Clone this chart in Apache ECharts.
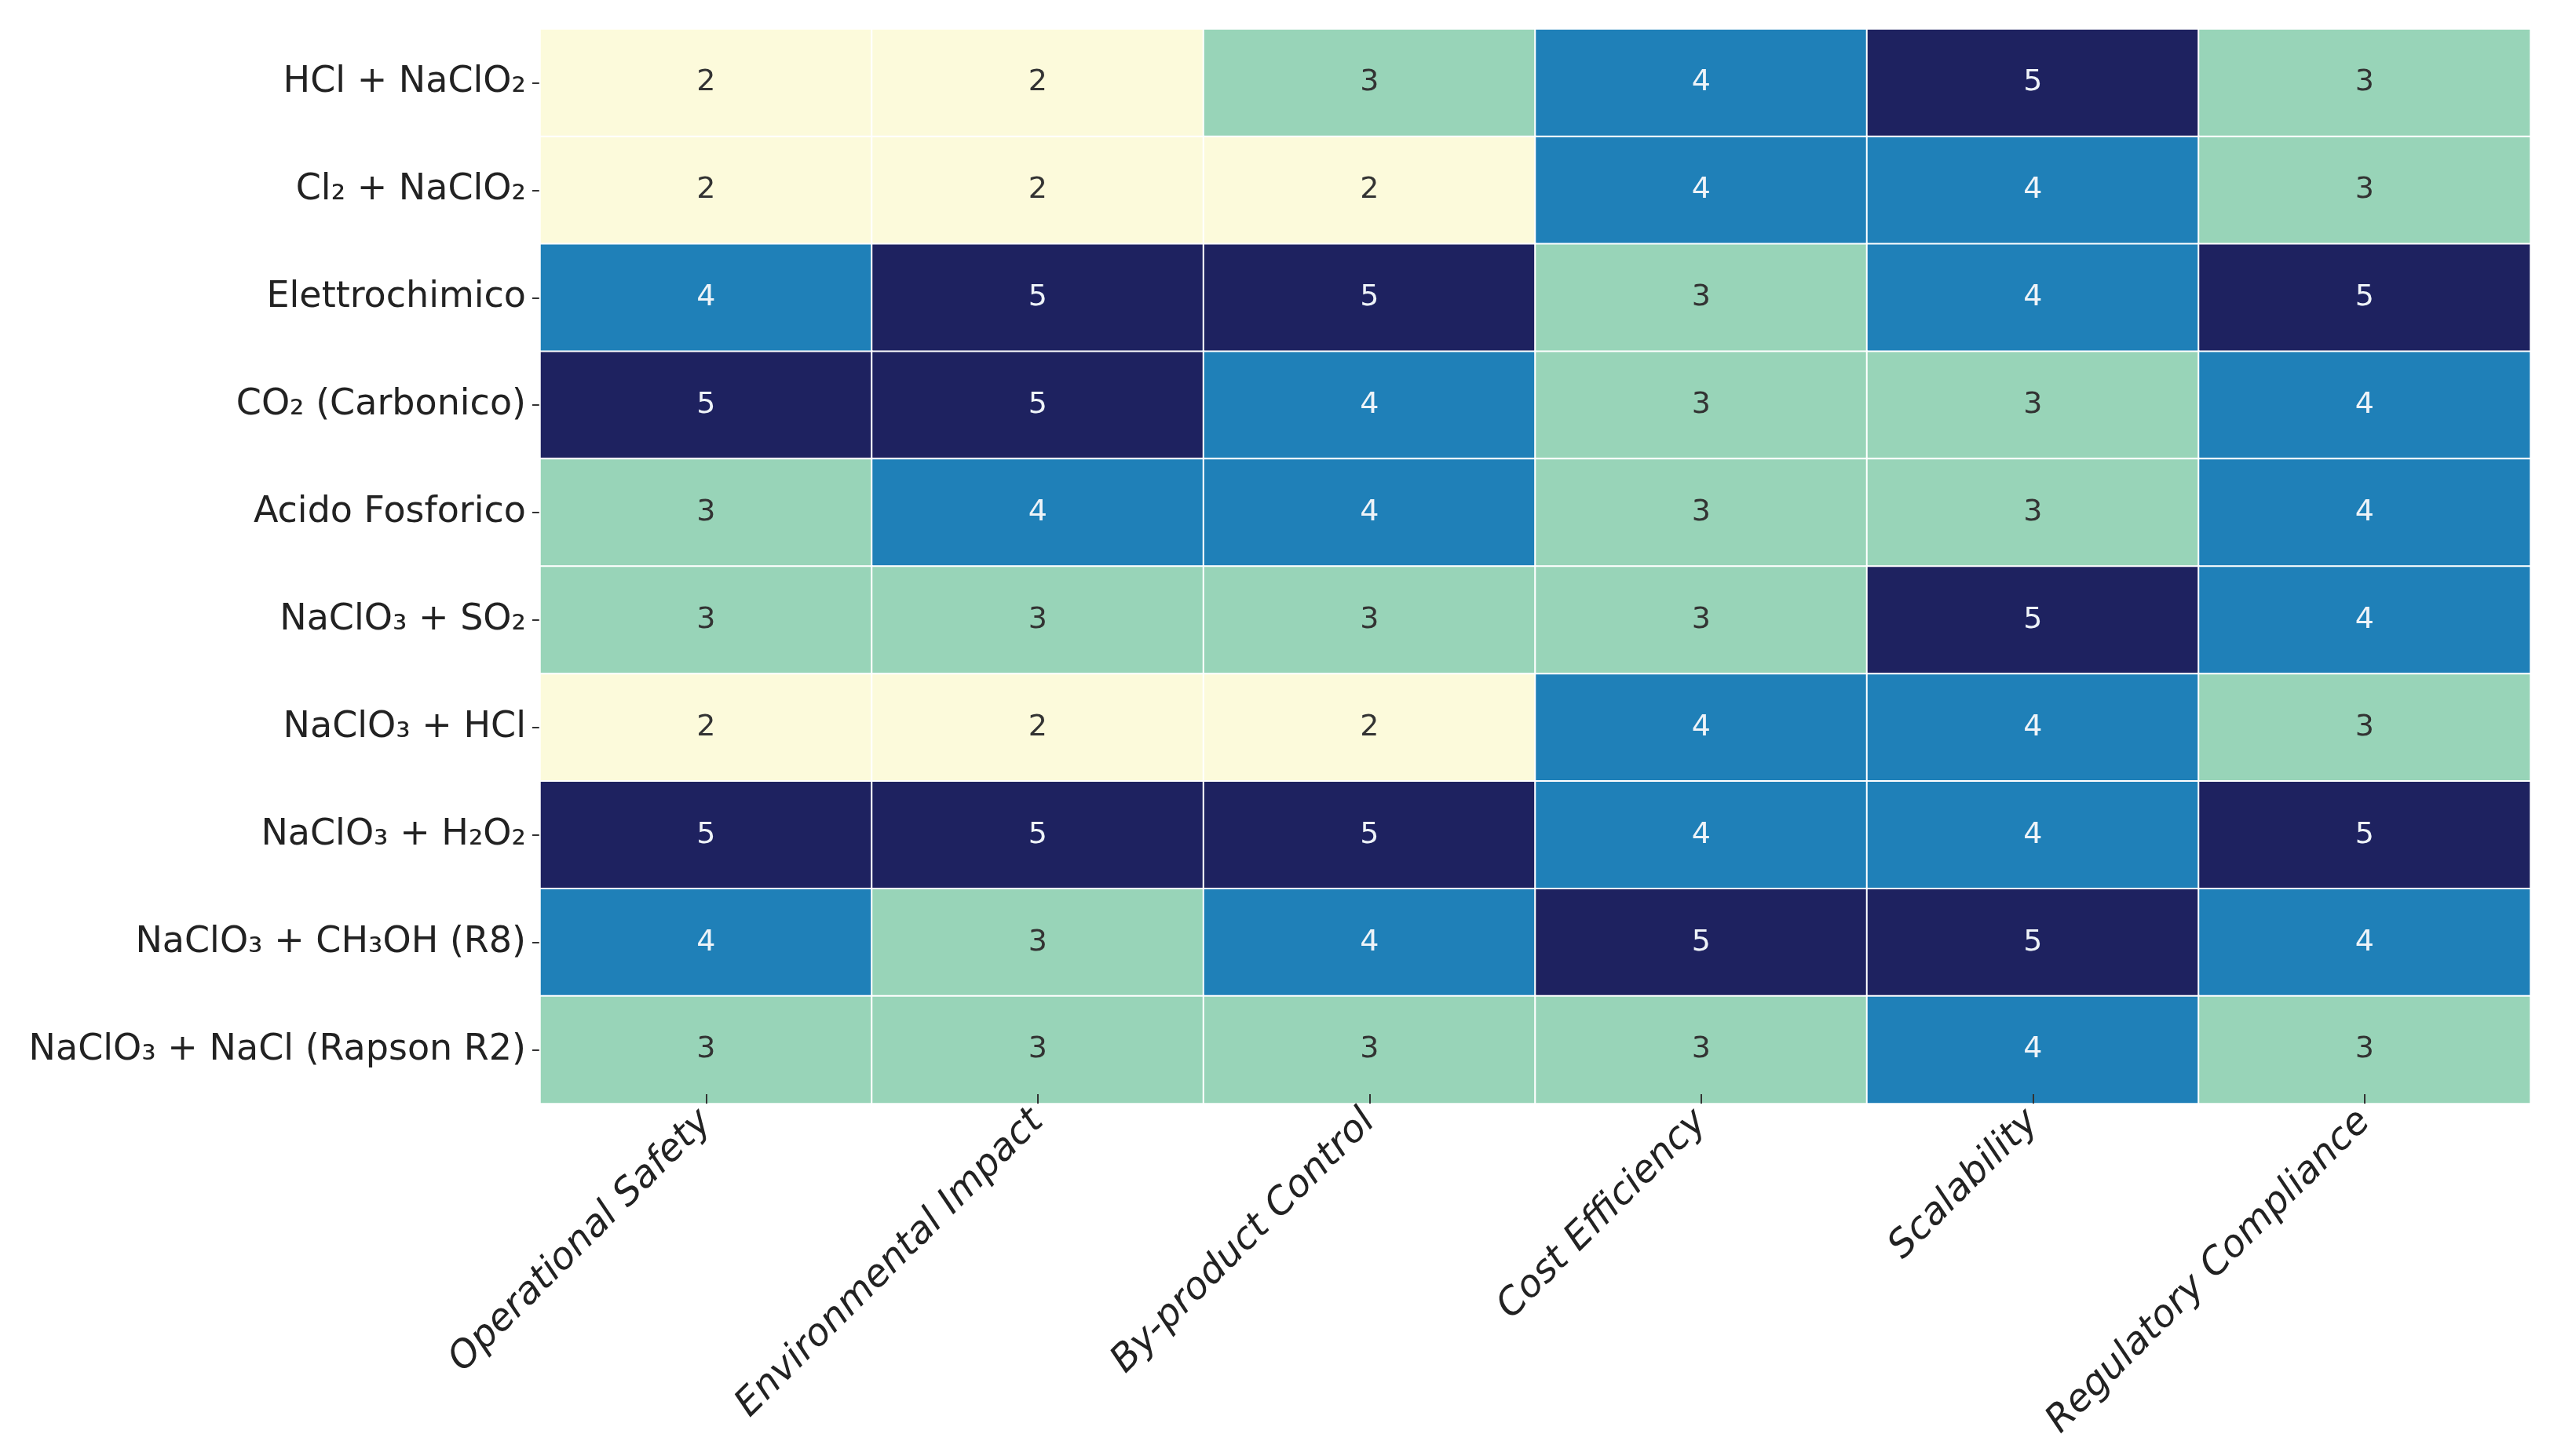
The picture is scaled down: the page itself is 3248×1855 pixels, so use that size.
<!DOCTYPE html>
<html>
<head>
<meta charset="utf-8">
<script src="https://cdn.jsdelivr.net/npm/echarts@6/dist/echarts.min.js"></script>
<style>
html,body{margin:0;padding:0;background:#fff;}
#chart{width:3248px;height:1855px;}
</style>
</head>
<body>
<div id="chart"></div>
<script>
const criteria = ['Operational Safety','Environmental Impact','By-product Control','Cost Efficiency','Scalability','Regulatory Compliance'];
const processes = ['HCl + NaClO₂','Cl₂ + NaClO₂','Elettrochimico','CO₂ (Carbonico)','Acido Fosforico','NaClO₃ + SO₂','NaClO₃ + HCl','NaClO₃ + H₂O₂','NaClO₃ + CH₃OH (R8)','NaClO₃ + NaCl (Rapson R2)'];
const scores = [
  [2,2,3,4,5,3],
  [2,2,2,4,4,3],
  [4,5,5,3,4,5],
  [5,5,4,3,3,4],
  [3,4,4,3,3,4],
  [3,3,3,3,5,4],
  [2,2,2,4,4,3],
  [5,5,5,4,4,5],
  [4,3,4,5,5,4],
  [3,3,3,3,4,3]
];
const levelColors = {2:'#FCFADB',3:'#98D4B8',4:'#1F80B8',5:'#1E2260'};
const textColors = {2:'#333333',3:'#333333',4:'#EEF3F8',5:'#EEF3F8'};

const data = [];
scores.forEach((row,r)=>row.forEach((v,c)=>{
  data.push({value:[c,r,v], itemStyle:{color:levelColors[v]}, label:{color:textColors[v]}});
}));

const chart = echarts.init(document.getElementById('chart'));
chart.setOption({
  backgroundColor:'#ffffff',
  animation:false,
  grid:{left:688,right:25,top:37,bottom:449,containLabel:false},
  xAxis:{
    type:'category', data:criteria, z:5,
    axisLine:{show:false},
    axisTick:{show:true,inside:true,alignWithLabel:true,length:12,lineStyle:{color:'#333',width:2}},
    axisLabel:{rotate:45,fontSize:48,fontFamily:'DejaVu Sans',fontStyle:'italic',color:'#222',margin:16},
    splitLine:{show:false}
  },
  yAxis:{
    type:'category', data:processes, inverse:true,
    axisLine:{show:false},
    axisTick:{show:true,alignWithLabel:true,length:10,lineStyle:{color:'#333',width:2}},
    axisLabel:{fontSize:46,fontFamily:'DejaVu Sans',color:'#222',margin:18},
    splitLine:{show:false}
  },
  series:[{
    type:'heatmap',
    data:data,
    itemStyle:{borderColor:'#ffffff',borderWidth:2},
    label:{show:true,fontSize:38,fontFamily:'DejaVu Sans',formatter:p=>String(p.value[2])},
    emphasis:{disabled:true}
  }]
});
</script>
</body>
</html>
